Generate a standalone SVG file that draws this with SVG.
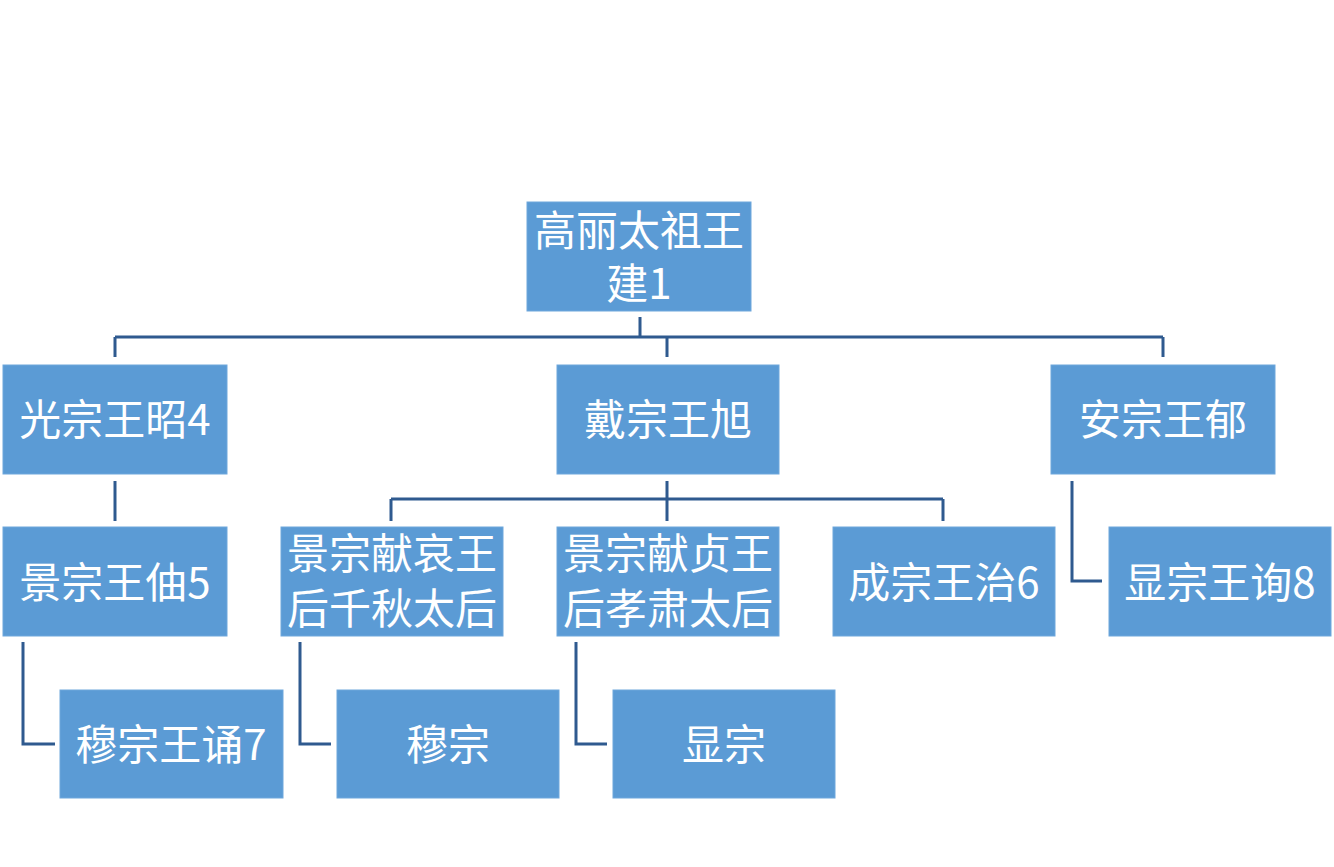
<svg xmlns="http://www.w3.org/2000/svg" width="1334" height="867" viewBox="0 0 1334 867">
<style>
.box{fill:#5b9bd5;stroke:#6fa7dc;stroke-width:1}
.t{font-family:"Noto Sans CJK SC","Noto Sans",sans-serif;font-size:42px;fill:#ffffff;text-anchor:middle}
.c{fill:none;stroke:#2f5a8f;stroke-width:3}
</style>
<rect width="1334" height="867" fill="#ffffff"/>
<g id="connectors">
<path class="c" d="M640 317 V337 M115 337 H1163 M115 337 V357 M667 337 V357 M1163 337 V357"/>
<path class="c" d="M115 481 V521"/>
<path class="c" d="M667 481 V499 M391 499 H943 M391 499 V521 M667 499 V521 M943 499 V521"/>
<path class="c" d="M1072 481 V581 H1102"/>
<path class="c" d="M23 642 V744 H55"/>
<path class="c" d="M300 642 V744 H331"/>
<path class="c" d="M576 642 V744 H607"/>
</g>
<g id="n1"><rect class="box" x="527" y="202" width="224" height="109"/><text class="t"><tspan x="639" y="246">高丽太祖王</tspan><tspan x="639" y="299">建1</tspan></text></g>
<g id="n4"><rect class="box" x="3" y="365" width="224" height="109"/><text class="t" x="115" y="435">光宗王昭4</text></g>
<g id="ndai"><rect class="box" x="557" y="365" width="222" height="109"/><text class="t" x="668" y="435">戴宗王旭</text></g>
<g id="nan"><rect class="box" x="1051" y="365" width="224" height="109"/><text class="t" x="1163" y="435">安宗王郁</text></g>
<g id="n5"><rect class="box" x="3" y="527" width="224" height="109"/><text class="t" x="115" y="598">景宗王伷5</text></g>
<g id="nqq"><rect class="box" x="281" y="527" width="222" height="109"/><text class="t"><tspan x="392" y="569">景宗献哀王</tspan><tspan x="392" y="624">后千秋太后</tspan></text></g>
<g id="nxs"><rect class="box" x="557" y="527" width="222" height="109"/><text class="t"><tspan x="668" y="569">景宗献贞王</tspan><tspan x="668" y="624">后孝肃太后</tspan></text></g>
<g id="n6"><rect class="box" x="833" y="527" width="222" height="109"/><text class="t" x="944" y="598">成宗王治6</text></g>
<g id="n8"><rect class="box" x="1109" y="527" width="222" height="109"/><text class="t" x="1220" y="598">显宗王询8</text></g>
<g id="n7"><rect class="box" x="60" y="690" width="223" height="108"/><text class="t" x="171" y="760">穆宗王诵7</text></g>
<g id="nmz"><rect class="box" x="337" y="690" width="222" height="108"/><text class="t" x="448" y="760">穆宗</text></g>
<g id="nxz"><rect class="box" x="613" y="690" width="222" height="108"/><text class="t" x="724" y="760">显宗</text></g>
</svg>
